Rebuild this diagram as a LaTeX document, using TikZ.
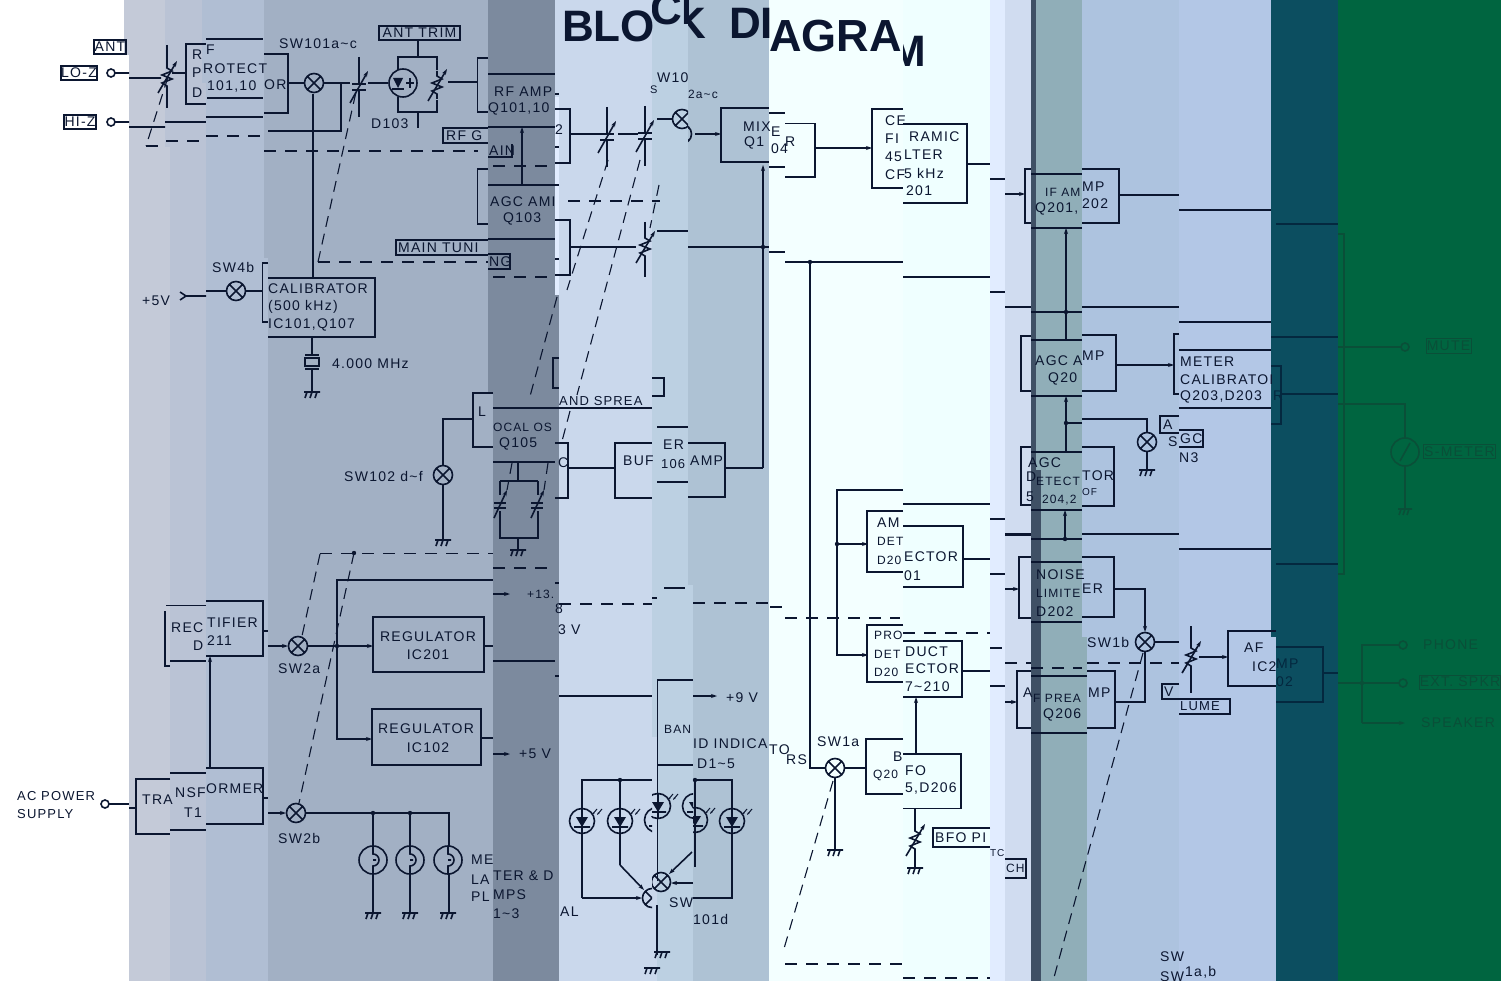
\documentclass[tikz,border=0pt]{standalone}
\usepackage{fontspec}
\setmainfont[LetterSpace=9]{Liberation Sans}
\newfontfamily\titlefont{Liberation Sans}
\usetikzlibrary{arrows.meta, calc, positioning}
\definecolor{inka}{HTML}{0B1630}
\definecolor{inkb}{HTML}{04283F}
\definecolor{inkc}{HTML}{0A4F38}
\definecolor{sa}{HTML}{C4CAD8}
\definecolor{sb}{HTML}{BAC3D5}
\definecolor{sc}{HTML}{B0BED3}
\definecolor{sd}{HTML}{A2B0C4}
\definecolor{se}{HTML}{7C8A9E}
\definecolor{sf}{HTML}{CAD8EC}
\definecolor{sg}{HTML}{BCD0E2}
\definecolor{sh}{HTML}{AEC2D4}
\definecolor{si}{HTML}{F3FFFF}
\definecolor{sj}{HTML}{EFFFFF}
\definecolor{sk}{HTML}{E1ECFF}
\definecolor{sl}{HTML}{D0DCF0}
\definecolor{sm}{HTML}{3F5065}
\definecolor{sn}{HTML}{90AEB8}
\definecolor{so}{HTML}{ADC3DF}
\definecolor{sp}{HTML}{B3C7E6}
\definecolor{sq}{HTML}{0C4E60}
\definecolor{sr}{HTML}{006540}
\newcommand{\tld}{\textasciitilde}
\tikzset{
  wire/.style={draw=inka, line width=1.6pt},
  thinw/.style={wire, line width=1.2pt},
  arw/.style={wire, -{Stealth[length=6pt,width=4pt]}},
  dsh/.style={wire, line width=1.7pt, dash pattern=on 12pt off 9pt},
  dsl/.style={wire, line width=1.1pt, dash pattern=on 11pt off 7pt},
  lab/.style={anchor=west, inner sep=0pt, text=inka, font=\fontsize{14}{16}\selectfont},
  nar/.style={lab, font=\fontsize{12}{14}\selectfont},
  tag/.style={lab, anchor=center, draw=inka, line width=1.2pt, inner sep=0.5pt},
  ttl/.style={anchor=west, inner sep=0pt, text=inka, font=\fontsize{44}{46}\titlefont\bfseries},
  swx/.pic={\draw[wire] (0,0) circle (9.5pt) (-6.7,-6.7)--(6.7,6.7) (-6.7,6.7)--(6.7,-6.7);},
  gnd/.pic={\draw[wire] (-8,0)--(8,0) (-5,0)--(-7,6) (0,0)--(-2,6) (5,0)--(3,6);},
  varcap/.pic={\draw[wire] (0,-30)--(0,-4) (0,4)--(0,30) (-7,-3)--(7,-3) (-7,3)--(7,3);
    \draw[arw] (-9,16)--(9,-16);},
  varres/.pic={\draw[wire] (0,-14)--(0,-9)--(5,-6)--(-5,-2)--(5,2)--(-5,6)--(0,9)--(0,14);
    \draw[arw] (-9,16)--(10,-16);},
  lamp/.pic={\draw[wire] (0,0) circle (14pt); \draw[wire] (0,-14)--(0,-6) arc (90:-90:6pt)--(0,14) (0,0)--(3,0);},
  led/.pic={\draw[wire] (0,0) circle (12.5pt) (-8,6)--(8,6) (0,-12)--(0,12);
    \fill[inka] (-6,-4)--(6,-4)--(0,6)--cycle;
    \draw[wire, line width=1pt, -{Stealth[length=3pt,width=2pt]}] (15,-12)--(10,-6);
    \draw[wire, line width=1pt, -{Stealth[length=3pt,width=2pt]}] (20,-12)--(15,-6);},
}
\begin{document}
\begin{tikzpicture}[x=1pt, y=-1pt]
  \useasboundingbox (0,0) rectangle (1501,981);
  % --- strips ---
  \foreach \xa/\xb/\yb/\col in {124/129/55/sa, 165/170/147/sb, 202/206/83/sc, 264/268/258/sd,
      488/493/393/se, 555/559/295/sf, 652/657/737/sg, 688/693/585/sh, 769/769/981/si,
      903/903/981/sj, 990/990/981/sk, 1005/1005/981/sl, 1031/1031/981/sm, 1036/1041/470/sn,
      1082/1087/637/so, 1179/1179/981/sp, 1271/1276/637/sq, 1338/1338/981/sr}
    {\fill[\col] (\xa,0) rectangle (1501,\yb); \fill[\col] (\xb,\yb) rectangle (1501,981);}
  \fill[sk] (555,97) rectangle (559,295);

  % --- title ---
  \begin{scope}
    \clip (560,0) rectangle (652,60);
    \node[ttl] (titlea) at (562,26) {BLOC};
  \end{scope}
  \begin{scope}
    \clip (652,0) rectangle (688,60);
    \node[ttl] (titleb) at (650,9) {CK};
  \end{scope}
  \begin{scope}
    \clip (688,0) rectangle (769,60);
    \node[ttl] (titlec) at (674,23) {K\hspace{11pt} DI};
  \end{scope}
  \begin{scope}
    \clip (769,0) rectangle (903,70);
    \node[ttl, font=\fontsize{45}{47}\titlefont\bfseries] (titled) at (769,36) {AGRAM};
  \end{scope}
  \begin{scope}
    \clip (903,0) rectangle (930,70);
    \node[ttl] (titlee) at (889,51) {M};
  \end{scope}

  % --- antenna inputs ---
  \node[tag, minimum width=32pt, minimum height=14pt] (ant) at (110,47) {ANT};
  \node[tag, line width=1.8pt, minimum width=35pt, minimum height=14pt] (loz) at (79,73) {LO-Z};
  \node[tag, line width=1.8pt, minimum width=32pt, minimum height=14pt] (hiz) at (80,122) {HI-Z};
  \draw[wire] (111,73) circle (4pt) (115,73)--(129,73) (129,78)--(161,78);
  \draw[wire] (111,122) circle (4pt) (115,122)--(129,122) (129,127)--(165,127);
  \draw[wire] (165,122)--(206,122) (206,117)--(263,117) (268,131)--(341,131)--(341,83);
  \draw[dsl] (168,77)--(146,146);
  \draw[dsh] (146,146)--(158,146);
  \draw[dsh] (166,141)--(206,141);
  \draw[dsh] (206,136)--(263,136);
  \draw[dsh] (264,151)--(478,151);
  \draw[dsh] (493,166)--(555,166);
  \draw[dsh] (568,201)--(660,201);
  \pic at (167,77) {varres};
  \draw[wire] (167,45)--(167,63) (167,91)--(167,108);

  % --- RF protector ---
  \draw[wire] (172,73)--(186,73);
  \draw[wire] (206,44)--(186,44)--(186,104)--(206,104);
  \draw[wire] (206,39)--(263,39) (207,98)--(263,98);
  \draw[wire] (264,54)--(288,54)--(288,113)--(264,113);
  \node[lab] (rfa) at (192,55) {R};
  \node[lab] (rfb) at (192,73) {P};
  \node[lab] (rfc) at (192,93) {D};
  \node[lab] (rfd) at (206,50) {F};
  \node[lab] (rfe) at (203,69) {ROTECT};
  \node[lab] (rff) at (207,87) {101,10};
  \node[lab] (rfg) at (264,85) {OR};

  % --- SW101 and RF stage ---
  \node[lab] (swa) at (279,44) {SW101a\tld c};
  \draw[wire] (288,83)--(304,83) (324,83)--(350,83) (368,83)--(388,83);
  \pic at (314,83) {swx};
  \draw[wire] (313,94)--(313,278);
  \pic at (359,87) {varcap};
  \draw[dsl] (318,262)--(356,92);
  \draw[dsh] (318,262)--(488,262);
  \draw[dsh] (493,277)--(555,277);
  \draw[dsh] (560,275)--(570,275);
  \draw[wire] (403,83) circle (14pt);
  \draw[wire] (398,70)--(398,57)--(437,57)--(437,70) (398,97)--(398,112)--(437,112)--(437,100);
  \fill[inka] (393,78)--(403,78)--(398,88)--cycle;
  \draw[wire] (392,89)--(404,89) (410,78)--(410,88) (406,83)--(414,83);
  \pic at (437,85) {varres};
  \node[tag, minimum width=81pt, minimum height=14pt] (anttrim) at (419.5,33) {ANT TRIM};
  \draw[wire] (418,41)--(418,57) (418,113)--(418,128);
  \node[lab] (dhun) at (371,124) {D103};
  \draw[wire] (448,82)--(477,82);
  \draw[wire] (488,58)--(477.5,58)--(477.5,112)--(488,112);
  \draw[wire] (488,74)--(555,74) (488,127)--(555,127);
  \draw[wire] (555,109)--(570,109)--(570,163)--(555,163);
  \node[lab] (rfamp) at (494,92) {RF AMP};
  \node[lab] (rfq) at (488,109) {Q101,10};
  \node[lab] (rftwo) at (555,130) {2};
  % RF gain tags
  \draw[thinw] (488,128)--(443,128)--(443,143)--(488,143);
  \node[lab] (gaina) at (446,135.5) {RF G};
  \draw[thinw] (488,157)--(512,157)--(512,144);
  \node[lab] (gainb) at (489,150.5) {AIN};
  \draw[arw] (522,185)--(522,127);
  \draw[wire] (488,169)--(477.5,169)--(477.5,224)--(488,224);
  \draw[wire] (488,185)--(555,185) (488,239)--(555,239);
  \node[lab] (agca) at (490,202) {AGC AMI};
  \node[lab] (agcb) at (503,219) {Q103};
  \draw[wire] (555,220)--(570,220)--(570,275)--(555,275);
  \draw[thinw] (488,240)--(396,240)--(396,255)--(488,255);
  \node[lab] (tuna) at (398,247.5) {MAIN TUNI};
  \draw[thinw] (488,269)--(510,269)--(510,254)--(488,254);
  \node[lab] (tunb) at (489,261.5) {NG};
  \foreach \yy in {94,147,185,259} {\draw[wire] (555,\yy)--(559,\yy);}

  % --- tuning gang ---
  \draw[wire] (570,134)--(600,134) (618,134)--(638,134);
  \pic at (607,137) {varcap};
  \pic at (645,136) {varcap};
  \draw[dsl] (608,160)--(567,290);
  \draw[dsl] (640,160)--(577,395);
  \draw[dsl] (570,411)--(561,445);
  \draw[dsl] (659,185)--(650,228);
  \draw[dsl] (557,297)--(529,400);
  \draw[wire] (570,247)--(636,247);
  \pic at (645,247) {varres};
  \draw[wire] (645,222)--(645,233) (645,261)--(645,277);
  \node[lab, font=\fontsize{11}{13}\selectfont] (swb) at (650,90) {S};
  \node[lab] (swc) at (657,78) {W10};
  \node[nar] (swd) at (688,94) {2a\tld c};
  \draw[wire] (657,119)--(673,119) (657,231)--(688,231) (688,247)--(769,247) (769,252)--(785,252) (785,262)--(903,262);
  \begin{scope}
    \clip (657,90) rectangle (688,150);
    \pic at (682,119) {swx};
  \end{scope}
  \begin{scope}
    \clip (688,100) rectangle (700,150);
    \pic at (682,134) {swx};
  \end{scope}
  \draw[arw] (695,134)--(721,134);

  % --- mixer ---
  \draw[wire] (769,108)--(721,108)--(721,162)--(769,162);
  \draw[wire] (769,113)--(785,113) (769,167)--(785,167);
  \draw[wire] (785,123.5)--(815,123.5)--(815,177)--(785,177);
  \node[lab] (mixa) at (743,127) {MIX};
  \node[lab] (mixb) at (744,143) {Q1};
  \node[lab] (mixc) at (771,132) {E};
  \node[lab] (mixd) at (771,149) {04};
  \node[lab] (mixe) at (785,142) {R};
  \draw[arw] (815,148)--(872,148);
  \draw[arw] (763,468)--(763,165);
  \fill[inka] (763,247) circle (2.2pt) (810,262) circle (2.2pt);
  \draw[wire] (810,262)--(810,768)--(825,768);

  % --- ceramic filter ---
  \draw[wire] (903,109)--(872,109)--(872,188)--(903,188);
  \draw[wire] (903,124)--(967,124)--(967,203)--(903,203);
  \node[lab] (cera) at (885,121) {CE};
  \node[lab] (cerb) at (885,139) {FI};
  \node[lab] (cerc) at (885,157) {45};
  \node[lab] (cerd) at (885,175) {CF};
  \node[lab] (cere) at (909,137) {RAMIC};
  \node[lab] (cerf) at (904,155) {LTER};
  \node[lab] (cerg) at (904,173) {5 kHz};
  \node[lab] (cerh) at (906,191) {201};
  \draw[wire] (967,164)--(990,164) (990,179)--(1005,179);
  \draw[arw] (1005,194)--(1025,194);
  \draw[wire] (903,277)--(990,277) (990,292)--(1005,292) (1005,307)--(1031,307);

  % --- IF amp ---
  \draw[wire] (1031,169)--(1025,169)--(1025,223)--(1031,223);
  \draw[wire] (1031,174)--(1082,174) (1031,228)--(1082,228);
  \draw[wire] (1082,169)--(1119,169)--(1119,223)--(1082,223);
  \node[nar] (ifa) at (1045,192) {IF AM};
  \node[lab] (ifb) at (1035,209) {Q201,};
  \node[lab] (ifc) at (1082,187) {MP};
  \node[lab] (ifd) at (1082,204) {202};
  \draw[wire] (1119,195)--(1179,195);
  \draw[<-, wire, >={Stealth[length=6pt,width=4pt]}] (1066,228)--(1066,340);
  \draw[wire] (1031,312)--(1082,312) (1082,307)--(1179,307) (1179,322)--(1271,322);
  \fill[inka] (1066,312) circle (2.2pt);

  % --- AGC amp, meter calibrator ---
  \draw[wire] (1031,336)--(1021,336)--(1021,391)--(1031,391);
  \draw[wire] (1031,340)--(1082,340) (1031,396)--(1082,396);
  \draw[wire] (1082,335)--(1116,335)--(1116,391)--(1082,391);
  \node[lab] (ama) at (1035,361) {AGC A};
  \node[lab] (amb) at (1048,379) {Q20};
  \node[lab] (amc) at (1082,356) {MP};
  \draw[arw] (1116,365)--(1174,365);
  \draw[wire] (1179,334)--(1174,334)--(1174,394)--(1179,394);
  \draw[wire] (1179,350)--(1271,350) (1179,408)--(1271,408);
  \node[lab] (mca) at (1180,362) {METER};
  \begin{scope}
    \clip (1179,370) rectangle (1271,390);
    \node[lab] (mcb) at (1180,380) {CALIBRATOR};
  \end{scope}
  \node[lab] (mcc) at (1180,397) {Q203,D203};

  % --- AGC switch and detector ---
  \draw[<-, wire, >={Stealth[length=6pt,width=4pt]}] (1066,396)--(1066,452);
  \fill[inka] (1066,423) circle (2.2pt);
  \draw[wire] (1066,423)--(1082,423) (1082,419)--(1147,419)--(1147,433) (1147,452)--(1147,470);
  \pic at (1147,442) {swx};
  \pic at (1147,470) {gnd};
  \draw[thinw] (1179,416)--(1160,416)--(1160,433)--(1179,433);
  \node[lab] (agsa) at (1163,424.5) {A};
  \node[lab] (agsb) at (1168,442) {S};
  \draw[thinw] (1179,430)--(1203,430)--(1203,447)--(1179,447);
  \node[lab] (agsc) at (1180,438.5) {GC};
  \node[lab] (agsd) at (1179,458) {N3};
  \draw[wire] (1031,447)--(1021,447)--(1021,505)--(1031,505);
  \draw[wire] (1031,452)--(1082,452) (1031,510)--(1082,510);
  \draw[wire] (1082,447)--(1114,447)--(1114,506)--(1082,506);
  \node[lab] (dta) at (1028,463) {AGC};
  \node[lab] (dtb) at (1026,477) {D};
  \node[nar] (dtc) at (1036,481) {ETECT};
  \node[lab] (dtd) at (1026,497) {5};
  \node[nar] (dte) at (1042,500) {204,2};
  \node[lab] (dtf) at (1082,476) {TOR};
  \node[lab, font=\fontsize{10}{12}\selectfont] (dtg) at (1082,492) {OF};
  \draw[<-, wire, >={Stealth[length=6pt,width=4pt]}] (1065,510)--(1065,539);
  \fill[inka] (1065,539) circle (2.2pt);
  \draw[wire] (1031,539)--(1082,539) (1005,535)--(1031,535) (1082,534)--(1179,534) (1179,549)--(1271,549);

  % --- noise limiter ---
  \draw[wire] (1031,557)--(1019,557)--(1019,618)--(1031,618);
  \draw[wire] (1031,562)--(1082,562) (1031,622)--(1082,622);
  \draw[wire] (1082,557)--(1114,557)--(1114,617)--(1082,617);
  \node[lab] (nla) at (1036,575) {NOISE};
  \node[nar] (nlb) at (1036,593) {LIMITE};
  \node[lab] (nlc) at (1036,612) {D202};
  \node[lab] (nld) at (1082,589) {ER};
  \draw[arw] (1114,589)--(1145,589)--(1145,632);
  \pic at (1145,642) {swx};
  \node[lab] (swoneb) at (1087,642) {SW1b};
  \draw[wire] (1155,642)--(1179,642);
  \draw[dsl] (1143,653)--(1053,981);
  \draw[wire] (1145,652)--(1145,702)--(1115,702);
  \draw[dsh] (1087,663)--(1179,663);
  \draw[dsh] (1031,668)--(1082,668);
  \draw[dsh] (1005,663)--(1031,663);

  % --- AF preamp ---
  \draw[wire] (1031,671)--(1017,671)--(1017,728)--(1031,728);
  \draw[wire] (1031,676)--(1087,676) (1031,733)--(1087,733);
  \draw[wire] (1087,671)--(1115,671)--(1115,728)--(1087,728);
  \node[lab] (pra) at (1023,693) {A};
  \node[nar] (prb) at (1033,698) {F PREA};
  \node[lab] (prc) at (1043,715) {Q206};
  \node[lab] (prd) at (1088,693) {MP};
  \draw[arw] (1005,702)--(1017,702);

  % --- volume and AF amp ---
  \draw[wire] (1191,626)--(1191,643) (1191,671)--(1191,693);
  \pic at (1191,657) {varres};
  \draw[dsl] (1197,647)--(1180,677);
  \draw[arw] (1199,657)--(1228,657);
  \draw[thinw] (1179,684)--(1162,684)--(1162,699)--(1179,699);
  \node[lab] (vola) at (1164,691.5) {V};
  \draw[thinw] (1179,699)--(1230,699)--(1230,714)--(1179,714);
  \node[lab, font=\fontsize{13}{15}\selectfont] (volb) at (1180,706.5) {LUME};
  \draw[wire] (1276,631)--(1228,631)--(1228,686)--(1276,686);
  \node[lab] (afa) at (1244,648) {AF};
  \node[lab] (afb) at (1252,667) {IC2};
  \node[lab] (swla) at (1160,957) {SW};
  \node[lab] (swlb) at (1160,977) {SW};
  \node[lab] (swlc) at (1185,972) {1a,b};

  % --- calibrator ---
  \node[lab] (five) at (142,301) {+5V};
  \draw[wire] (180,292)--(186,296)--(180,300) (186,296)--(206,296) (206,291)--(226,291) (246,291)--(262,291);
  \pic at (236,291) {swx};
  \node[lab] (swfour) at (212,267) {SW4b};
  \draw[wire] (268,263)--(262.5,263)--(262.5,322)--(268,322);
  \draw[wire] (268,278)--(375,278)--(375,337)--(268,337);
  \node[lab] (cala) at (268,289) {CALIBRATOR};
  \node[lab] (calb) at (268,307) {(500 kHz)};
  \node[lab] (calc) at (268,325) {IC101,Q107};
  \draw[wire] (312,337)--(312,354) (312,370)--(312,392);
  \draw[wire, fill=sd] (305,358) rectangle (319,366);
  \draw[wire] (305,355)--(319,355) (305,369)--(319,369);
  \pic at (312,392) {gnd};
  \node[lab] (xtal) at (332,364) {4.000 MHz};

  % --- local oscillator ---
  \draw[wire] (493,393)--(473,393)--(473,447)--(493,447);
  \draw[wire] (493,408)--(559,408) (493,462)--(555,462);
  \draw[wire] (555,443)--(568,443)--(568,498)--(555,498);
  \node[lab] (loa) at (478,412) {L};
  \node[nar] (lob) at (493,427) {OCAL OS};
  \node[lab] (loc) at (499,444) {Q105};
  \node[lab] (lod) at (558,463) {C};
  \draw[wire] (473,419)--(443,419)--(443,465) (443,485)--(443,540);
  \pic at (443,475) {swx};
  \pic at (443,540) {gnd};
  \node[lab] (swbd) at (344,476) {SW102 d\tld f};
  \draw[wire] (518,462)--(518,481) (500,481)--(538,481) (500,481)--(500,495) (538,481)--(538,495);
  \draw[wire] (500,511)--(500,538)--(538,538)--(538,511) (518,538)--(518,550);
  \draw[wire] (494,503)--(506,503) (494,508)--(506,508) (531,503)--(543,503) (531,508)--(543,508);
  \draw[arw] (494,518)--(507,490);
  \draw[arw] (531,518)--(544,490);
  \draw[dsl] (512,463)--(507,490);
  \draw[dsl] (548,463)--(544,490);
  \pic at (518,550) {gnd};

  % --- band spread ---
  \draw[thinw] (559,408)--(652,408) (652,396)--(664,396)--(664,378)--(652,378);
  \draw[thinw] (559,358)--(553,358)--(553,388)--(559,388);
  \node[lab, font=\fontsize{13}{15}\selectfont] (bsa) at (559,401) {AND SPREA};

  % --- buffer amp ---
  \draw[wire] (568,468)--(615,468);
  \draw[wire] (652,443)--(615,443)--(615,498)--(652,498);
  \draw[wire] (657,427)--(688,427) (657,482)--(688,482);
  \draw[wire] (688,443)--(725,443)--(725,497)--(688,497);
  \draw[wire] (725,468)--(763,468);
  \node[lab] (bua) at (623,461) {BUF};
  \node[lab] (bub) at (663,445) {ER};
  \node[lab, font=\fontsize{13}{15}\selectfont] (buc) at (661,464) {106};
  \node[lab] (bud) at (690,461) {AMP};

  % --- rectifier, transformer, regulators ---
  \draw[wire, line width=2pt] (165,611)--(165,666)--(170,666);
  \draw[wire] (166,605.5)--(206,605.5) (170,661)--(206,661);
  \draw[wire] (206,601)--(263,601)--(263,656)--(206,656);
  \node[lab] (rea) at (171,628) {REC};
  \node[lab] (reb) at (193,646) {D};
  \node[lab] (rec) at (207,623) {TIFIER};
  \node[lab] (red) at (207,641) {211};
  \draw[wire] (263,631)--(268,631);
  \draw[arw] (268,646)--(288,646);
  \pic at (298,646) {swx};
  \node[lab] (swtwoa) at (278,669) {SW2a};
  \draw[arw] (308,646)--(373,646);
  \fill[inka] (337,646) circle (2.2pt);
  \draw[wire] (493,580)--(337,580)--(337,646);
  \draw[arw] (337,646)--(337,739)--(372,739);
  \draw[dsh] (320,553.5)--(493,553.5);
  \draw[dsl] (320,554)--(302,636);
  \draw[dsl] (354,553)--(299,803);
  \fill[inka] (354,553) circle (2.2pt);
  \draw[dsh] (493,568)--(555,568);
  \draw[wire] (373,617) rectangle (484,672);
  \draw[wire] (372,709) rectangle (481,765);
  \node[lab, anchor=center] (rega) at (428,637) {REGULATOR};
  \node[lab, anchor=center] (regb) at (428,655) {IC201};
  \node[lab, anchor=center] (regc) at (426,729) {REGULATOR};
  \node[lab, anchor=center] (regd) at (428,748) {IC102};
  \draw[wire] (484,646)--(493,646) (481,738)--(493,738) (493,661)--(555,661);
  \draw[arw] (493,594)--(510,594);
  \node[nar] (thia) at (527,594) {+13.};
  \node[lab] (thib) at (555,609) {8};
  \node[lab] (thic) at (558,630) {3 V};
  \draw[arw] (493,754)--(510,754);
  \node[lab] (fivev) at (519,754) {+5 V};
  \draw[wire] (555,583)--(559,583) (555,676)--(559,676);
  \draw[wire] (559,696)--(652,696);
  \draw[wire] (693,680)--(657.5,680)--(657.5,881);
  \draw[arw] (693,696)--(717,696);
  \node[lab] (nine) at (726,698) {+9 V};
  \draw[dsh] (559,604)--(652,604);
  \draw[wire] (664,588)--(685,588) (652,598)--(657,598);
  \draw[dsh] (693,603)--(769,603);
  \draw[dsh] (770,607)--(785,607);
  \draw[dsh] (785,618)--(900,618);
  \draw[dsh] (903,633)--(990,633);
  \draw[dsh] (990,648)--(1005,648);

  \draw[wire] (109,804)--(129,804) (129,808)--(136,808);
  \draw[wire] (105,804) circle (4pt);
  \node[lab, font=\fontsize{13}{15}\selectfont] (aca) at (17,796) {AC POWER};
  \node[lab, font=\fontsize{13}{15}\selectfont] (acb) at (17,814) {SUPPLY};
  \draw[wire] (170,779)--(136,779)--(136,834)--(170,834);
  \draw[wire] (170,773)--(206,773) (170,830)--(206,830);
  \draw[wire] (206,768)--(263,768)--(263,824)--(206,824);
  \node[lab] (tra) at (142,800) {TRA};
  \node[lab] (trb) at (175,793) {NSF};
  \node[lab] (trc) at (184,813) {T1};
  \node[lab] (trd) at (206,789) {ORMER};
  \draw[arw] (210,768)--(210,656);
  \draw[wire] (263,798)--(268,798);
  \draw[arw] (268,813)--(286,813);
  \pic at (296,813) {swx};
  \node[lab] (swtwob) at (278,838) {SW2b};
  \draw[wire] (306,813)--(449,813)--(449,846) (449,874)--(449,913);
  \draw[wire] (373,813)--(373,846) (373,874)--(373,913) (410,813)--(410,846) (410,874)--(410,913);
  \fill[inka] (373,813) circle (2.2pt) (410,813) circle (2.2pt);
  \foreach \xx in {373,410,448} {\pic at (\xx,860) {lamp}; \pic at (\xx,913) {gnd};}
  \node[lab] (lpa) at (471,860) {ME};
  \node[lab] (lpb) at (471,880) {LA};
  \node[lab] (lpc) at (471,897) {PL};
  \node[lab] (lpd) at (493,876) {TER \& D};
  \node[lab] (lpe) at (493,895) {MPS};
  \node[lab] (lpf) at (493,914) {1\tld3};
  \node[lab] (lpg) at (560,912) {AL};

  % --- band indicators ---
  \node[nar] (bia) at (664,729) {BAN};
  \node[lab] (bib) at (693,744) {ID INDICA};
  \node[lab] (bic) at (769,750) {TO};
  \node[lab] (bid) at (786,760) {RS};
  \node[lab] (bie) at (697,764) {D1\tld5};
  \node[lab] (bif) at (669,903) {SW};
  \node[lab] (big) at (693,919) {101d};
  \draw[wire] (582,898)--(582,780)--(652,780) (657,765)--(693,765) (695,780)--(732,780)--(732,898)--(693,898);
  \fill[inka] (620,780) circle (2.2pt) (695,780) circle (2.2pt);
  \pic at (582,821) {led};
  \pic at (620,821) {led};
  \pic at (732,821) {led};
  \draw[wire] (620,780)--(620,865);
  \begin{scope}
    \clip (630,790) rectangle (652,850);
    \pic at (657,820) {led};
  \end{scope}
  \begin{scope}
    \clip (652,770) rectangle (693,850);
    \pic at (658,806) {led};
    \pic at (695,806) {led};
  \end{scope}
  \begin{scope}
    \clip (693,790) rectangle (725,850);
    \pic at (695,820) {led};
  \end{scope}
  \draw[wire] (695,780)--(695,867);
  \draw[arw] (620,865)--(644,890);
  \draw[arw] (582,898)--(642,898);
  \draw[arw] (692,852)--(669,874);
  \draw[arw] (693,883)--(671,883);
  \begin{scope}
    \clip (640,880) rectangle (652,915);
    \pic at (652,898) {swx};
  \end{scope}
  \begin{scope}
    \clip (652,870) rectangle (672,895);
    \pic at (661,882) {swx};
  \end{scope}
  \draw[wire] (657,905)--(657,955);
  \pic at (662,952) {gnd};
  \pic at (652,968) {gnd};

  % --- detectors ---
  \draw[wire] (903,490)--(837,490)--(837,544);
  \draw[arw] (837,544)--(868,544);
  \fill[inka] (837,544) circle (2.2pt);
  \draw[arw] (837,544)--(837,655)--(868,655);
  \draw[wire] (903,511)--(867,511)--(867,572)--(903,572);
  \draw[wire] (903,526)--(963,526)--(963,587)--(903,587);
  \node[lab] (ada) at (877,523) {AM};
  \node[nar] (adb) at (877,541) {DET};
  \node[nar] (adc) at (877,560) {D20};
  \node[lab] (add) at (904,557) {ECTOR};
  \node[lab] (ade) at (904,576) {01};
  \draw[wire] (903,504)--(990,504) (963,559)--(990,559) (990,519)--(1005,519) (990,574)--(1005,574) (1005,534)--(1031,534);
  \draw[arw] (1005,589)--(1019,589);
  \draw[wire] (903,625)--(867,625)--(867,682)--(903,682);
  \draw[wire] (903,641)--(962,641)--(962,697)--(903,697);
  \node[nar] (pda) at (874,635) {PRO};
  \node[nar] (pdb) at (874,654) {DET};
  \node[nar] (pdc) at (874,672) {D20};
  \node[lab] (pdd) at (905,652) {DUCT};
  \node[lab] (pde) at (905,669) {ECTOR};
  \node[lab] (pdf) at (905,687) {7\tld210};
  \draw[wire] (962,671)--(990,671) (990,686)--(1005,686);

  % --- BFO ---
  \pic at (835,768) {swx};
  \node[lab] (swonea) at (817,742) {SW1a};
  \draw[wire] (845,768)--(866,768) (835,778)--(835,850);
  \pic at (835,850) {gnd};
  \draw[dsl] (833,781)--(783,952);
  \draw[dsh] (785,964)--(903,964);
  \draw[dsh] (903,978)--(990,978);
  \draw[wire] (903,739)--(866,739)--(866,794)--(903,794);
  \draw[wire] (903,754)--(961,754)--(961,808.5)--(903,808.5);
  \node[lab] (bfa) at (893,757) {B};
  \node[nar] (bfb) at (873,775) {Q20};
  \node[lab] (bfc) at (905,771) {FO};
  \node[lab] (bfd) at (905,789) {5,D206};
  \draw[arw] (916,754)--(916,697);
  \draw[wire] (915,808.5)--(915,826) (915,854)--(915,868);
  \pic at (915,840) {varres};
  \pic at (915,868) {gnd};
  \draw[thinw] (990,828)--(933,828)--(933,847)--(990,847);
  \node[lab] (bpa) at (935,837.5) {BFO PI};
  \node[lab, font=\fontsize{10}{12}\selectfont] (bpb) at (990,853) {TC};
  \draw[thinw] (1005,859)--(1026,859)--(1026,878)--(1005,878);
  \node[nar] (bpc) at (1006,868.5) {CH};

  % --- right strips ---
  \begin{scope}[wire/.append style={draw=inkb}, lab/.append style={text=inkb}]
    \draw[wire] (1276,224)--(1338,224) (1271,337)--(1338,337) (1276,564)--(1338,564);
    \draw[wire] (1271,366)--(1281,366)--(1281,424)--(1271,424) (1281,394)--(1338,394);
    \node[lab] (mcd) at (1273,396) {R};
    \draw[wire] (1276,647)--(1323,647)--(1323,702)--(1276,702) (1323,673)--(1338,673);
    \node[lab] (afc) at (1276,664) {MP};
    \node[lab] (afd) at (1276,682) {02};
  \end{scope}
  \draw[wire] (1179,210)--(1271,210) (1179,549)--(1271,549);
  \begin{scope}[wire/.append style={draw=inkc}, lab/.append style={text=inkc},
      tag/.append style={draw=inkc, text=inkc, line width=1pt}]
    \draw[wire] (1338,234)--(1344,234)--(1344,574)--(1338,574);
    \draw[wire] (1338,347)--(1401,347) (1405,347) circle (4pt);
    \node[tag, minimum width=45pt, minimum height=14pt] (mute) at (1448.5,346) {MUTE};
    \draw[wire] (1338,404)--(1405,404)--(1405,438) (1405,466)--(1405,505);
    \draw[wire] (1405,452) circle (14pt) (1400,461)--(1410,443);
    \draw[wire] (1405,505)--(1405,509) (1398,509)--(1412,509) (1401,509)--(1399,515) (1405,509)--(1403,515) (1409,509)--(1407,515);
    \node[tag, minimum width=67pt, minimum height=14pt] (smeter) at (1459.5,451.5) {S-METER};
    \draw[wire] (1399,645)--(1362,645)--(1362,723) (1338,683)--(1399,683);
    \fill[inkc] (1362,683) circle (2.2pt);
    \draw[wire] (1403,645) circle (4pt) (1403,683) circle (4pt);
    \draw[arw] (1362,723)--(1405,723);
    \node[lab] (phone) at (1423,645) {PHONE};
    \node[tag, minimum width=78pt, minimum height=14pt] (ext) at (1460,682) {EXT. SPKR};
    \node[lab] (spk) at (1421,723) {SPEAKER};
  \end{scope}
\end{tikzpicture}
\end{document}
